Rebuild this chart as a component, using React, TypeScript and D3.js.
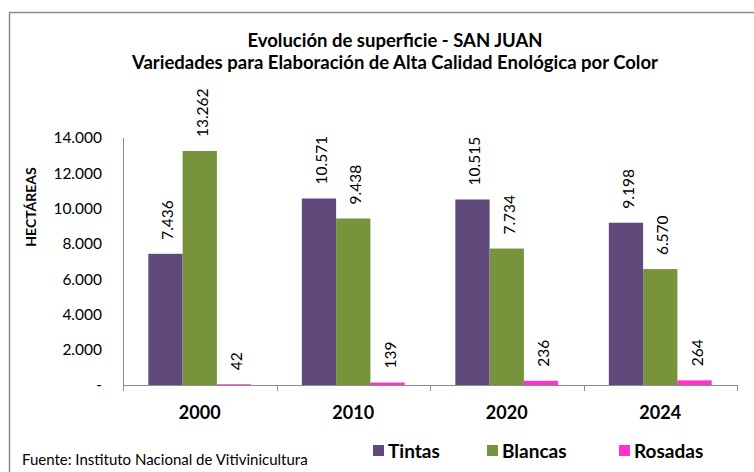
import React, { useEffect, useRef } from "react";
import * as d3 from "d3";

const years = ["2000", "2010", "2020", "2024"];
const seriesNames = ["Tintas", "Blancas", "Rosadas"];
const tintas = [7436, 10571, 10515, 9198];
const blancas = [13262, 9438, 7734, 6570];
const rosadas = [42, 139, 236, 264];
const colours = ["#604a7b", "#77933c", "#ff33cc"];
const yTicks = [0, 2000, 4000, 6000, 8000, 10000, 12000, 14000];

const WIDTH = 754;
const HEIGHT = 472;
const FONT = "Lato, 'Open Sans', sans-serif";

// 7436 -> "7.436"
const fmt = (v: number) => (v === 0 ? "-" : d3.format(",")(v).replace(/,/g, "."));

const App = () => {
  const svgRef = useRef<SVGSVGElement>(null);

  useEffect(() => {
    const svg = d3.select(svgRef.current);
    svg.selectAll("*").remove();

    const values = [tintas, blancas, rosadas];

    // outer frame, runs off the right and bottom edge
    svg.append("rect")
      .attr("x", 9.5)
      .attr("y", 12.5)
      .attr("width", 800)
      .attr("height", 500)
      .attr("fill", "white")
      .attr("stroke", "#8c8c8c")
      .attr("stroke-width", 1.5);

    // title
    const title = svg.append("text")
      .attr("text-anchor", "middle")
      .attr("font-family", FONT)
      .attr("font-weight", "bold")
      .attr("font-size", 18.5)
      .attr("fill", "#000");
    title.append("tspan").attr("x", 395).attr("y", 47).text("Evolución de superficie - SAN JUAN");
    title.append("tspan").attr("x", 395).attr("y", 69).text("Variedades para Elaboración de Alta Calidad Enológica por Color");

    const x0 = d3.scaleBand().domain(years).range([123, 737]);
    const bw = x0.bandwidth();
    const x1 = d3.scaleBand().domain(seriesNames).range([bw * 0.165, bw * 0.835]);
    const y = d3.scaleLinear().domain([0, 14000]).range([385, 138]);

    // y axis
    svg.append("line")
      .attr("x1", 123.5).attr("x2", 123.5)
      .attr("y1", y(14000)).attr("y2", y(0))
      .attr("stroke", "#8c8c8c");

    svg.selectAll(".ytick")
      .data(yTicks)
      .join("text")
      .attr("x", 102)
      .attr("y", d => y(d))
      .attr("dy", "0.35em")
      .attr("text-anchor", "end")
      .attr("font-family", FONT)
      .attr("font-size", 15.5)
      .attr("fill", "#000")
      .text(d => fmt(d));

    svg.append("text")
      .attr("transform", `translate(36,207) rotate(-90)`)
      .attr("text-anchor", "middle")
      .attr("font-family", FONT)
      .attr("font-weight", "bold")
      .attr("font-size", 14)
      .text("HECTÁREAS");

    // bars
    years.forEach((yr, i) => {
      const g = svg.append("g").attr("transform", `translate(${x0(yr)},0)`);
      seriesNames.forEach((s, j) => {
        const v = values[j][i];
        const bx = x1(s) as number;
        g.append("rect")
          .attr("x", bx)
          .attr("y", y(v))
          .attr("width", x1.bandwidth())
          .attr("height", y(0) - y(v))
          .attr("fill", colours[j]);
        g.append("text")
          .attr("transform", `translate(${bx + x1.bandwidth() / 2 + 2},${y(v) - 14}) rotate(-90)`)
          .attr("dominant-baseline", "central")
          .attr("font-family", FONT)
          .attr("font-size", 15.5)
          .attr("fill", "#000")
          .text(fmt(v));
      });
    });

    // x axis
    svg.append("line")
      .attr("x1", 123).attr("x2", 737)
      .attr("y1", 385.5).attr("y2", 385.5)
      .attr("stroke", "#8c8c8c");
    const bounds = years.map(yr => x0(yr) as number).concat([737]);
    svg.selectAll(".xtick")
      .data(bounds)
      .join("line")
      .attr("x1", d => Math.round(d) + 0.5)
      .attr("x2", d => Math.round(d) + 0.5)
      .attr("y1", 385)
      .attr("y2", 391)
      .attr("stroke", "#8c8c8c");

    svg.selectAll(".xlabel")
      .data(years)
      .join("text")
      .attr("x", d => (x0(d) as number) + bw / 2)
      .attr("y", 413)
      .attr("dy", "0.35em")
      .attr("text-anchor", "middle")
      .attr("font-family", FONT)
      .attr("font-weight", "bold")
      .attr("font-size", 18)
      .text(d => d);

    // legend
    const legendX = [373, 487, 619];
    seriesNames.forEach((s, j) => {
      svg.append("rect")
        .attr("x", legendX[j])
        .attr("y", 445)
        .attr("width", 11)
        .attr("height", 11)
        .attr("fill", colours[j]);
      svg.append("text")
        .attr("x", legendX[j] + 15)
        .attr("y", 451)
        .attr("dy", "0.35em")
        .attr("font-family", FONT)
        .attr("font-weight", "bold")
        .attr("font-size", 19)
        .text(s);
    });

    svg.append("text")
      .attr("x", 22)
      .attr("y", 460)
      .attr("dy", "0.35em")
      .attr("font-family", FONT)
      .attr("font-size", 15)
      .text("Fuente: Instituto Nacional de Vitivinicultura");
  }, []);

  return (
    <svg
      ref={svgRef}
      width={WIDTH}
      height={HEIGHT}
      style={{ position: "absolute", left: 0, top: 0, background: "white" }}
    />
  );
};

export default App;
